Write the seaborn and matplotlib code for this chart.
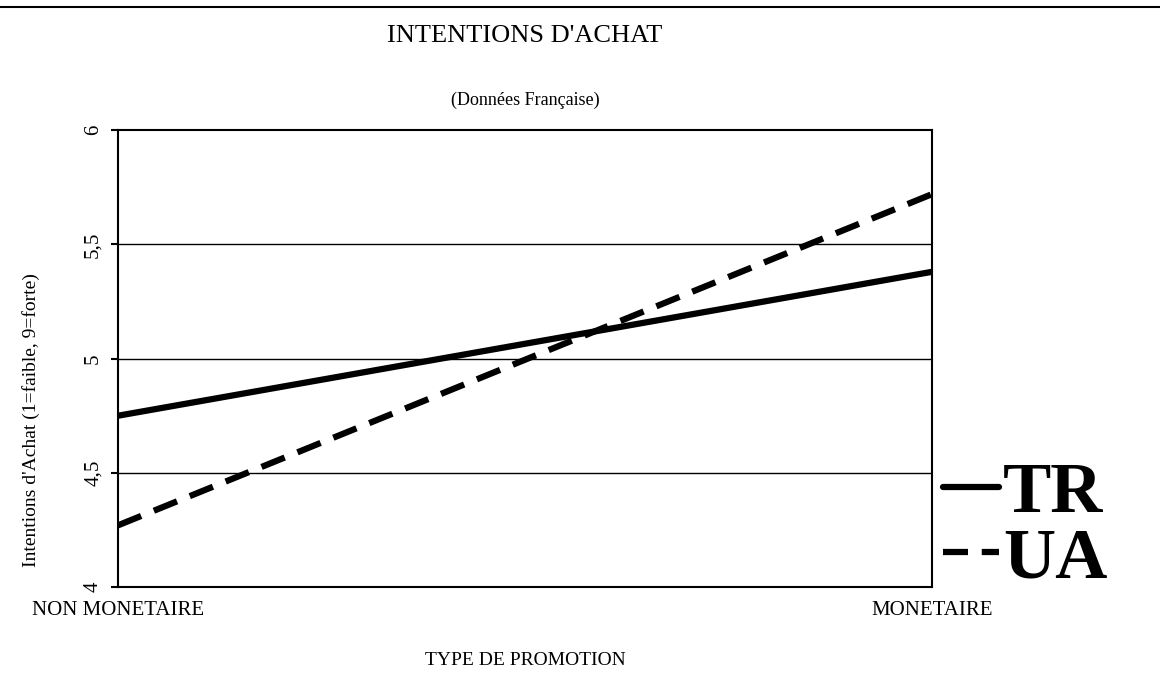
import matplotlib
matplotlib.use("Agg")
import matplotlib.pyplot as plt
from matplotlib.lines import Line2D
import pandas as pd
import seaborn as sns

# data
promo_types = ["NON MONETAIRE", "MONETAIRE"]
series_solid = [4.75, 5.38]
series_dashed = [4.27, 5.72]
series_names = ["TR", "UA"]
y_ticks = [4, 4.5, 5, 5.5, 6]
y_tick_labels = ["4", "4,5", "5", "5,5", "6"]

df = pd.DataFrame({
    "pos": [0, 1, 0, 1],
    "value": series_solid + series_dashed,
    "serie": [series_names[0]] * 2 + [series_names[1]] * 2,
})

sns.set_theme(style="white", rc={"text.color": "black", "xtick.color": "black",
                                 "ytick.color": "black", "axes.labelcolor": "black"})
plt.rcParams["font.family"] = ["Liberation Serif", "DejaVu Serif"]

fig = plt.figure(figsize=(11.6, 6.89), dpi=100)
ax = fig.add_axes([0.1017, 0.148, 0.7017, 0.663])

sns.lineplot(
    data=df, x="pos", y="value", style="serie",
    dashes={series_names[0]: "", series_names[1]: (4, 2.2)},
    color="black", linewidth=4.5, ax=ax, legend=False,
)

ax.set_xlim(0, 1)
ax.set_ylim(4, 6)
ax.set_xticks([0, 1])
ax.set_xticklabels(promo_types, fontsize=15)
ax.set_yticks(y_ticks)
ax.set_yticklabels(y_tick_labels, rotation=90, va="center", fontsize=15)
ax.tick_params(axis="y", length=5, width=1.5, color="black", direction="out", left=True, pad=6)
ax.tick_params(axis="x", length=0, pad=10)
for y in y_ticks[1:-1]:
    ax.axhline(y, color="black", linewidth=1)
for sp in ax.spines.values():
    sp.set_color("black")
    sp.set_linewidth(1.5)
ax.set_xlabel("")
ax.set_ylabel("")

fig.text(0.4526, 0.948, "INTENTIONS D'ACHAT", ha="center", va="center", fontsize=19)
fig.text(0.4526, 0.855, "(Données Française)", ha="center", va="center", fontsize=13)
fig.text(0.4526, 0.042, "TYPE DE PROMOTION", ha="center", va="center", fontsize=14)
fig.text(0.027, 0.39, "Intentions d'Achat (1=faible, 9=forte)", rotation=90,
         ha="center", va="center", fontsize=14)

handles = [Line2D([], [], color="black", linewidth=4.5),
           Line2D([], [], color="black", linewidth=4.5, dashes=(4, 2.2))]
leg = fig.legend(handles, series_names, loc="center left",
                 bbox_to_anchor=(0.813, 0.235), frameon=False,
                 prop={"family": "Liberation Serif", "weight": "bold", "size": 52},
                 handlelength=0.78, handletextpad=0.05, labelspacing=0.0,
                 borderaxespad=0, borderpad=0)

fig.add_artist(Line2D([0, 1], [0.99, 0.99], color="black", linewidth=1.5,
                      transform=fig.transFigure))

fig.savefig("out.png", dpi=100)
